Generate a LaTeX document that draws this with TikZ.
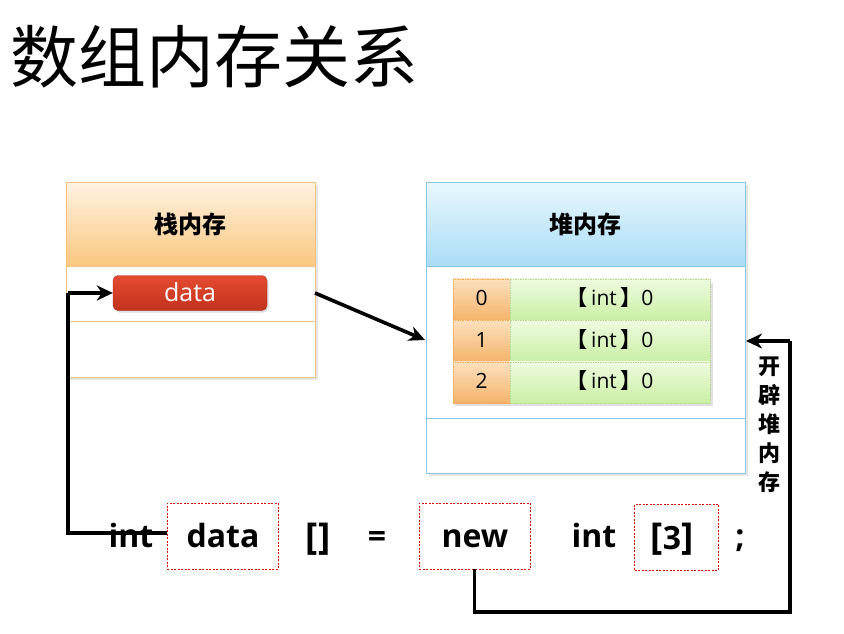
\documentclass[tikz,border=0pt]{standalone}
\usepackage{fontspec}
\setmainfont{Open Sans}
\newfontfamily\cjk{Noto Sans CJK SC}
\usetikzlibrary{arrows.meta,shadows}
\definecolor{stkline}{HTML}{F5C27E}
\definecolor{stktop}{HTML}{FEF3E2}
\definecolor{stkbot}{HTML}{FAC780}
\definecolor{hpline}{HTML}{86C8E6}
\definecolor{hptop}{HTML}{EAF7FE}
\definecolor{hpbot}{HTML}{A9DDF6}
\definecolor{redtop}{HTML}{E44A30}
\definecolor{redbot}{HTML}{C2321E}
\definecolor{idxtop}{HTML}{FCE0BE}
\definecolor{idxbot}{HTML}{F5B36A}
\definecolor{valtop}{HTML}{EEFBE0}
\definecolor{valbot}{HTML}{C9EFA3}
\definecolor{celline}{HTML}{B9D48C}
\tikzset{
  thickline/.style={line width=3.6pt,draw=black},
  arr/.style={thickline,-{Stealth[length=16pt,width=15pt,inset=5pt]}},
  codebox/.style={draw=red!85!black,dashed,line width=0.6pt,dash pattern=on 2pt off 1.5pt,minimum height=66pt,inner sep=0pt},
  codetxt/.style={font=\fontsize{32}{32}\selectfont\bfseries,inner sep=0pt,anchor=base},
  head/.style={font=\cjk\fontsize{24}{24}\selectfont\bfseries,inner sep=0pt},
  cellfont/.style={font=\fontsize{21}{21}\selectfont,text height=15pt,text depth=3pt},
  idxcell/.style={cellfont,draw=orange!70,dashed,dash pattern=on 1.5pt off 1pt,top color=idxtop,bottom color=idxbot,minimum width=57pt,minimum height=41.5pt,inner sep=0pt},
  valcell/.style={cellfont,draw=celline,dashed,dash pattern=on 1.5pt off 1pt,top color=valtop,bottom color=valbot,minimum width=200pt,minimum height=41.5pt,inner sep=0pt},
}
\newcommand{\bkt}[1]{{\fontsize{37}{37}\selectfont #1}}
\newcommand{\cellval}{{\cjk\bfseries 【}\,int\,{\cjk\bfseries 】}0}
\begin{document}
\begin{tikzpicture}[x=1pt,y=-1pt]
\useasboundingbox[fill=white] (0,0) rectangle (844,634);
% title
\node[anchor=west,inner sep=0pt,font=\cjk\fontsize{68}{68}\selectfont] (title) at (10,57) {数组内存关系};
% stack box
\fill[black!10] (69,185) rectangle (318,380);
\fill[white] (66,182) rectangle (315,377);
\shade[top color=stktop,bottom color=stkbot] (66,182) rectangle (315,266);
\draw[stkline,line width=0.8pt] (66,182) rectangle (315,377);
\draw[stkline,line width=0.8pt] (66,266) -- (315,266);
\draw[stkline,line width=0.8pt] (66,321) -- (315,321);
\node[head] (stackhead) at (190.5,224) {栈内存};
\coordinate (stackright) at (315,293);
% data pill
\node[rounded corners=5pt,top color=redtop,bottom color=redbot,draw=redbot!80!black,line width=0.3pt,
      minimum width=154pt,minimum height=35pt,inner sep=0pt,text=white,font=\fontsize{25}{25}\selectfont,
      text height=17pt,text depth=1pt,
      drop shadow={opacity=0.25,shadow xshift=1.5pt,shadow yshift=-2pt}] (datapill) at (190,293) {data};
% heap box
\fill[black!10] (429,185) rectangle (748,476);
\fill[white] (426,182) rectangle (745,473);
\shade[top color=hptop,bottom color=hpbot] (426,182) rectangle (745,266);
\draw[hpline,line width=0.8pt] (426,182) rectangle (745,473);
\draw[hpline,line width=0.8pt] (426,266) -- (745,266);
\draw[hpline,line width=0.8pt] (426,418) -- (745,418);
\node[head] (heaphead) at (585.5,224) {堆内存};
\coordinate (heapleft) at (425,340);
\coordinate (heapright) at (746,341);
% array shadow
\fill[black!12] (455,283) rectangle (713,406);
% array cells
\node[idxcell] (i0) at (481.5,299.5) {0};
\node[valcell] (v0) at (610,299.5) {\cellval};
\node[idxcell] (i1) at (481.5,341) {1};
\node[valcell] (v1) at (610,341) {\cellval};
\node[idxcell] (i2) at (481.5,382.5) {2};
\node[valcell] (v2) at (610,382.5) {\cellval};
% stack -> heap arrow
\draw[arr] (stackright) -- (heapleft);
% code line
\node[codebox,minimum width=111pt] (databox) at (222.5,536) {};
\node[codebox,minimum width=111pt] (newbox) at (474.5,536) {};
\node[codebox,minimum width=84pt] (threebox) at (676.5,537) {};
\node[codetxt] (int1) at (131,547) {int};
\node[codetxt] (datatxt) at (223,547) {data};
\node[codetxt] (brk) at (318,549) {\bkt{[]}};
\node[codetxt] (eq) at (377,547) {=};
\node[codetxt] (newtxt) at (475,547) {new};
\node[codetxt] (int2) at (594,547) {int};
\node[codetxt] (threetxt) at (672,549) {\bkt{[}3\bkt{]}};
\node[codetxt] (semi) at (740,547) {;};
% connector data decl -> data pill
\coordinate (lc1) at (68,533);
\coordinate (lc2) at (68,293);
\draw[thickline] (databox.west |- 0,533) -- (lc1) -- (lc2);
\draw[arr] (lc2) -- (datapill.west);
% connector new -> heap
\coordinate (rc1) at (474.5,612);
\coordinate (rc2) at (790,612);
\coordinate (rc3) at (790,341);
\draw[thickline,line join=miter] (newbox.south) -- (rc1) -- (rc2) -- (rc3);
\draw[arr] (rc3) -- (heapright);
% vertical label
\node[font=\cjk\fontsize{22}{29}\selectfont\bfseries,align=center,inner sep=0pt] (vlabel) at (769,425) {开\\辟\\堆\\内\\存};
\end{tikzpicture}
\end{document}
